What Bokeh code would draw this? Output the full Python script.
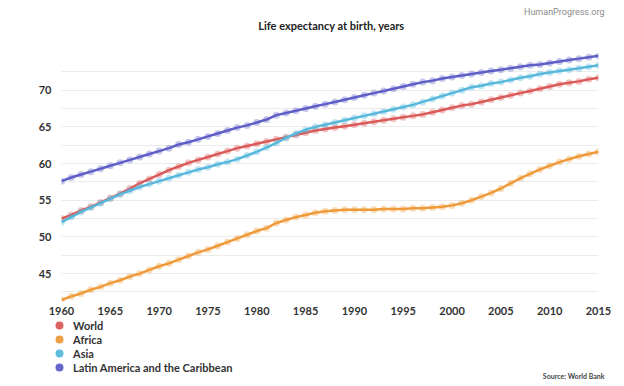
from bokeh.plotting import figure
from bokeh.layouts import column
from bokeh.models import (ColumnDataSource, FixedTicker, Range1d, Legend, LegendItem, Label)
from bokeh.embed import file_html
from bokeh.resources import INLINE

years = list(range(1960, 2016))

world = [52.5, 53.0, 53.6, 54.1, 54.7, 55.3, 55.9, 56.6, 57.3, 57.9,
         58.5, 59.1, 59.6, 60.1, 60.5, 60.9, 61.3, 61.7, 62.1, 62.4,
         62.7, 63.0, 63.3, 63.6, 63.9, 64.2, 64.5, 64.7, 64.9, 65.1,
         65.3, 65.5, 65.7, 65.9, 66.1, 66.3, 66.5, 66.7, 67.0, 67.3,
         67.6, 67.9, 68.1, 68.4, 68.7, 69.0, 69.3, 69.6, 69.9, 70.2,
         70.5, 70.8, 71.0, 71.2, 71.5, 71.7]

africa = [41.4, 41.9, 42.3, 42.8, 43.2, 43.7, 44.1, 44.6, 45.0, 45.5,
          46.0, 46.4, 46.9, 47.4, 47.9, 48.3, 48.8, 49.3, 49.8, 50.3,
          50.8, 51.2, 51.9, 52.3, 52.7, 53.0, 53.3, 53.5, 53.6, 53.7,
          53.7, 53.7, 53.7, 53.8, 53.8, 53.8, 53.9, 53.9, 54.0, 54.1,
          54.3, 54.6, 55.0, 55.5, 56.0, 56.6, 57.3, 58.0, 58.6, 59.2,
          59.7, 60.2, 60.6, 61.0, 61.3, 61.6]

asia = [52.0, 52.7, 53.4, 54.0, 54.6, 55.2, 55.8, 56.3, 56.8, 57.2,
        57.6, 58.0, 58.4, 58.8, 59.2, 59.5, 59.9, 60.2, 60.6, 61.1,
        61.6, 62.2, 62.8, 63.5, 64.1, 64.6, 65.0, 65.3, 65.6, 65.9,
        66.2, 66.5, 66.8, 67.1, 67.4, 67.7, 68.0, 68.4, 68.8, 69.2,
        69.6, 70.0, 70.4, 70.6, 70.9, 71.1, 71.4, 71.7, 71.9, 72.2,
        72.4, 72.6, 72.8, 73.0, 73.2, 73.4]

latam = [57.6, 58.1, 58.5, 58.9, 59.3, 59.7, 60.1, 60.5, 60.9, 61.3,
         61.7, 62.1, 62.6, 62.9, 63.3, 63.7, 64.1, 64.5, 64.9, 65.2,
         65.6, 66.0, 66.6, 66.9, 67.2, 67.5, 67.8, 68.1, 68.4, 68.7,
         69.0, 69.3, 69.6, 69.9, 70.2, 70.5, 70.8, 71.1, 71.3, 71.6,
         71.8, 72.0, 72.2, 72.4, 72.6, 72.8, 73.0, 73.2, 73.4, 73.5,
         73.7, 73.9, 74.1, 74.3, 74.5, 74.7]

series_names = ["World", "Africa", "Asia", "Latin America and the Caribbean"]
series_colors = ["#DB5A5A", "#EE9A3A", "#58B8DC", "#5E5FC6"]

x_ticks = [1960, 1965, 1970, 1975, 1980, 1985, 1990, 1995, 2000, 2005, 2010, 2015]
y_ticks = [45, 50, 55, 60, 65, 70]
grid_ticks = [42.5, 45, 47.5, 50, 52.5, 55, 57.5, 60, 62.5, 65, 67.5, 70, 72.5]

FONT = "Lato"

src = ColumnDataSource(dict(year=years, World=world, Africa=africa, Asia=asia,
                            LatAm=latam))
cols = ["World", "Africa", "Asia", "LatAm"]


def strip(height):
    f = figure(width=624, height=height, output_backend="svg", toolbar_location=None,
               title=None, x_axis_location=None, y_axis_location=None,
               x_range=Range1d(0, 1), y_range=Range1d(0, 1),
               min_border_left=0, min_border_right=0,
               min_border_top=0, min_border_bottom=0)
    f.outline_line_color = None
    f.xgrid.visible = False
    f.ygrid.visible = False
    f.frame_align = False
    return f


# ---------- header strip ----------
r = strip(53)
r.add_layout(Label(x=331, y=28, x_units="screen", y_units="screen",
                   text="Life expectancy at birth, years", text_align="center",
                   text_baseline="middle", text_font=FONT, text_font_style="bold",
                   text_font_size="11px", text_color="#222222"))
r.add_layout(Label(x=604, y=42, x_units="screen", y_units="screen",
                   text="HumanProgress.org", text_align="right",
                   text_baseline="middle", text_font="Roboto",
                   text_font_size="9px", text_color="#8a8a8a"))

# ---------- main chart ----------
p = figure(width=624, height=265, output_backend="svg", toolbar_location=None,
           title=None, x_range=Range1d(1960, 2015), y_range=Range1d(41.2, 75.0),
           min_border_left=61, min_border_right=26, min_border_top=0,
           min_border_bottom=17)
p.outline_line_color = None
p.background_fill_color = "white"
p.frame_align = False

for col, color in zip(cols, series_colors):
    p.line("year", col, source=src, line_color=color, line_width=2.5)
    p.scatter("year", col, source=src, size=7, fill_color=color, fill_alpha=0.35,
              line_alpha=0)

p.xaxis.ticker = FixedTicker(ticks=x_ticks)
p.yaxis.ticker = FixedTicker(ticks=y_ticks)
for ax in (p.xaxis, p.yaxis):
    ax.axis_line_color = None
    ax.major_tick_line_color = None
    ax.minor_tick_line_color = None
    ax.major_tick_out = 0
    ax.major_tick_in = 0
    ax.major_label_text_font = FONT
    ax.major_label_text_font_style = "bold"
    ax.major_label_text_font_size = "11px"
    ax.major_label_text_color = "#333333"
p.xaxis.major_label_standoff = 5
p.yaxis.major_label_standoff = 10

p.xgrid.grid_line_color = None
p.ygrid.ticker = FixedTicker(ticks=grid_ticks)
p.ygrid.grid_line_color = "#ebebeb"
p.ygrid.grid_line_width = 1

# ---------- legend strip ----------
Q_HEIGHT = 68
q = strip(Q_HEIGHT)
PITCH = 14
FIRST_CENTER = 7
BOX = 20
for i, (name, col, color) in enumerate(zip(series_names, cols, series_colors)):
    # the series lie outside this strip's ranges; only the legend swatch shows
    rr = q.scatter("year", col, source=src, size=9, fill_color=color,
                   line_alpha=0, fill_alpha=0.95)
    center = FIRST_CENTER + i * PITCH
    lg = Legend(items=[LegendItem(label=name, renderers=[rr], index=0)],
                location=(49, Q_HEIGHT - center - BOX // 2), orientation="vertical",
                padding=0, margin=0, spacing=0, label_height=12,
                glyph_height=BOX, glyph_width=BOX, label_standoff=4,
                label_text_font=FONT, label_text_font_style="bold",
                label_text_font_size="11px", label_text_color="#333333",
                border_line_alpha=0, background_fill_alpha=0)
    q.add_layout(lg, "center")

q.add_layout(Label(x=604, y=11, x_units="screen", y_units="screen",
                   text="Source: World Bank", text_align="right",
                   text_baseline="middle", text_font=FONT, text_font_style="bold",
                   text_font_size="7px", text_color="#444444"))

layout = column(r, p, q, spacing=0)
open("out.html", "w").write(file_html(layout, INLINE))
